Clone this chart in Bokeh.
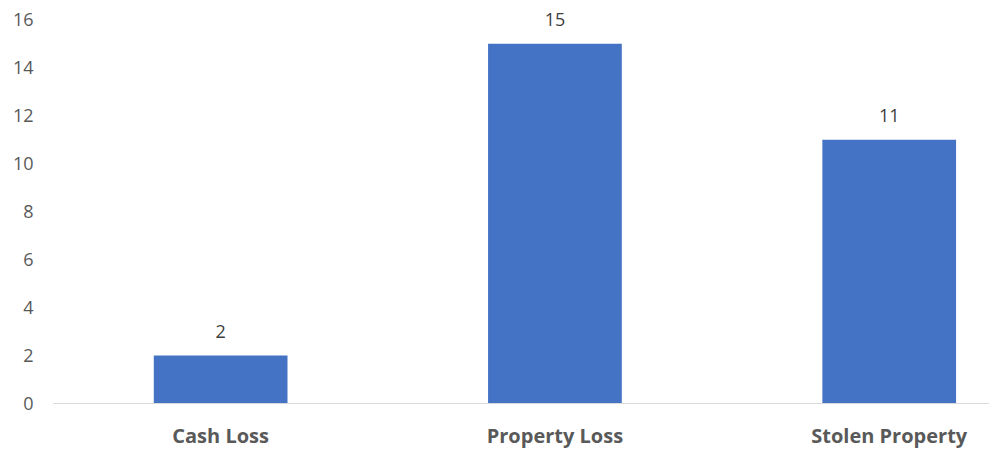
from bokeh.plotting import figure
from bokeh.models import Range1d, FixedTicker, ColumnDataSource, LabelSet
from bokeh.core.properties import value
from bokeh.embed import file_html
from bokeh.resources import INLINE

categories = ["Cash Loss", "Property Loss", "Stolen Property"]
values = [2, 15, 11]
y_ticks = [0, 2, 4, 6, 8, 10, 12, 14, 16]

xs = list(range(len(categories)))
src = ColumnDataSource(dict(x=xs, top=values, label=[str(v) for v in values]))

p = figure(width=989, height=451, output_backend="svg", toolbar_location=None,
           x_range=Range1d(-0.5, 2.3), y_range=Range1d(0, 16.8),
           min_border_left=53, min_border_right=0, min_border_top=0, min_border_bottom=47)
p.outline_line_color = None
p.xgrid.visible = False
p.ygrid.visible = False

p.vbar(x="x", top="top", width=0.4, bottom=0, source=src, fill_color="#4472C4", line_color=None)

labels = LabelSet(x="x", y="top", text="label", source=src, text_align="center",
                  text_baseline="bottom", y_offset=18, text_font=value("Open Sans"),
                  text_font_size="18px", text_color="#404040")
p.add_layout(labels)

p.xaxis.ticker = FixedTicker(ticks=xs)
p.xaxis.major_label_overrides = {i: c for i, c in enumerate(categories)}
p.xaxis.axis_line_color = "#D9D9D9"
p.xaxis.axis_line_width = 1
p.xaxis.major_tick_line_color = None
p.xaxis.minor_tick_line_color = None
p.xaxis.major_label_text_font = "Open Sans"
p.xaxis.major_label_text_font_style = "bold"
p.xaxis.major_label_text_font_size = "20px"
p.xaxis.major_label_text_color = "#595959"
p.xaxis.major_label_standoff = 12

p.yaxis.ticker = FixedTicker(ticks=y_ticks)
p.yaxis.axis_line_color = None
p.yaxis.major_tick_line_color = None
p.yaxis.minor_tick_line_color = None
p.yaxis.major_label_text_font = "Open Sans"
p.yaxis.major_label_text_font_size = "18px"
p.yaxis.major_label_text_color = "#595959"
p.yaxis.major_label_standoff = 14

open("out.html", "w").write(file_html(p, INLINE))
